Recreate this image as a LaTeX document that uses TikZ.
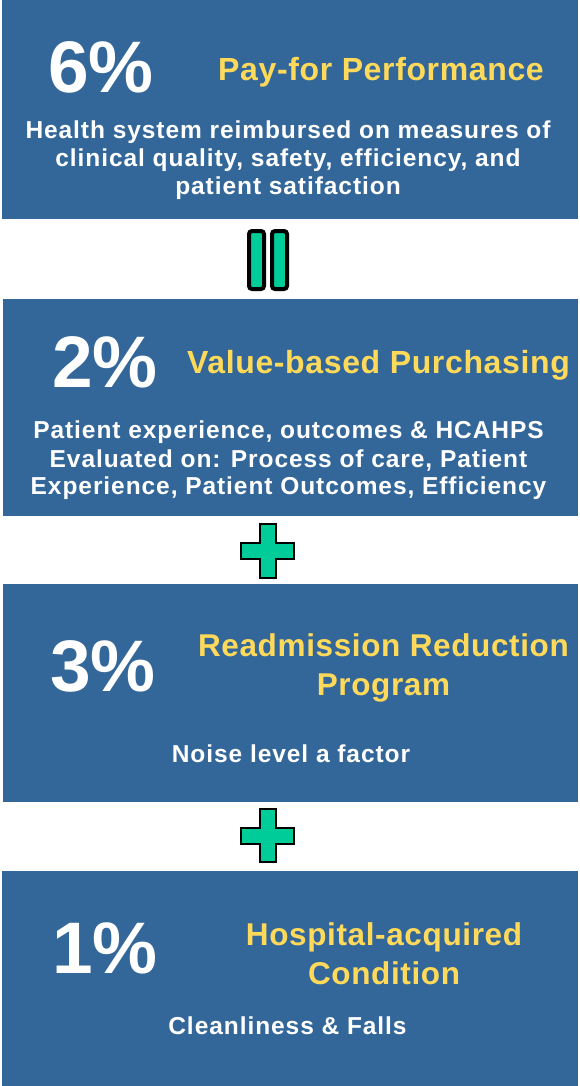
\documentclass[tikz,border=0pt]{standalone}
\usepackage{fontspec}
\setmainfont{Liberation Sans}
\newfontfamily\bodyfont{Liberation Sans}[LetterSpace=3.8]
\newfontfamily\titlefont{Liberation Sans}[LetterSpace=2]
\definecolor{panelblue}{RGB}{52,103,153}
\definecolor{signgreen}{RGB}{0,204,153}
\definecolor{headyellow}{RGB}{255,218,90}
\tikzset{
  panel/.style={fill=panelblue, draw=none, inner sep=0pt},
  pct/.style={anchor=base west, inner sep=0pt, text=white,
    font=\fontsize{73}{73}\selectfont\bfseries},
  heading/.style={anchor=base, inner sep=0pt, text=headyellow,
    font=\titlefont\fontsize{32}{32}\selectfont\bfseries},
  heading2/.style={anchor=north, inner sep=0pt, text=headyellow, align=center,
    font=\titlefont\fontsize{31.5}{39}\selectfont\bfseries},
  bodyline/.style={anchor=base, inner sep=0pt, text=white,
    font=\bodyfont\fontsize{24.5}{24.5}\selectfont\bfseries},
  bar/.style={fill=signgreen, draw=black, line width=4pt, rounded corners=3pt},
  plussign/.style={fill=signgreen, draw=black, line width=1.6pt}
}
\begin{document}
\begin{tikzpicture}[x=1pt, y=-1pt]
\useasboundingbox (0,0) rectangle (579,1086);

% four panels
\path[panel] (2,0) rectangle (578,219) node[pos=0.5] (panelA) {};
\path[panel] (3,299) rectangle (578,516) node[pos=0.5] (panelB) {};
\path[panel] (3,584) rectangle (578,802) node[pos=0.5] (panelC) {};
\path[panel] (2,871) rectangle (578,1086) node[pos=0.5] (panelD) {};

% panel A
\node[pct] (pctA) at (48,93) {6\%};
\node[heading] (headA) at (381,81) {Pay-for Performance};
\node[bodyline] (bodyA1) at (288,139) {Health system reimbursed on measures of};
\node[bodyline] (bodyA2) at (288,167) {clinical quality, safety, efficiency, and};
\node[bodyline] (bodyA3) at (288,194) {patient satifaction};

% equals sign between A and B
\draw[bar] (249,231) rectangle (264,289);
\draw[bar] (272,231) rectangle (287,289);

% panel B
\node[pct] (pctB) at (52,387) {2\%};
\node[heading] (headB) at (378.5,373) {Value-based Purchasing};
\node[bodyline] (bodyB1) at (288.5,438) {Patient experience, outcomes \& HCAHPS};
\node[bodyline] (bodyB2) at (288.5,467) {Evaluated on: Process of care, Patient};
\node[bodyline] (bodyB3) at (288.5,494) {Experience, Patient Outcomes, Efficiency};

% plus sign between B and C
\draw[plussign] (260,524) -- (276,524) -- (276,543) -- (294,543) -- (294,559)
  -- (276,559) -- (276,578) -- (260,578) -- (260,559) -- (241,559)
  -- (241,543) -- (260,543) -- cycle;

% panel C
\node[pct] (pctC) at (50,691) {3\%};
\node[heading2] (headC) at (383.5,633) {Readmission Reduction\\Program};
\node[bodyline] (bodyC1) at (291,762) {Noise level a factor};

% plus sign between C and D
\draw[plussign] (260,809) -- (276,809) -- (276,828) -- (294,828) -- (294,844)
  -- (276,844) -- (276,862) -- (260,862) -- (260,844) -- (241,844)
  -- (241,828) -- (260,828) -- cycle;

% panel D
\node[pct] (pctD) at (52,973) {1\%};
\node[heading2] (headD) at (384,922) {Hospital-acquired\\Condition};
\node[bodyline] (bodyD1) at (287.5,1034) {Cleanliness \& Falls};
\end{tikzpicture}
\end{document}
